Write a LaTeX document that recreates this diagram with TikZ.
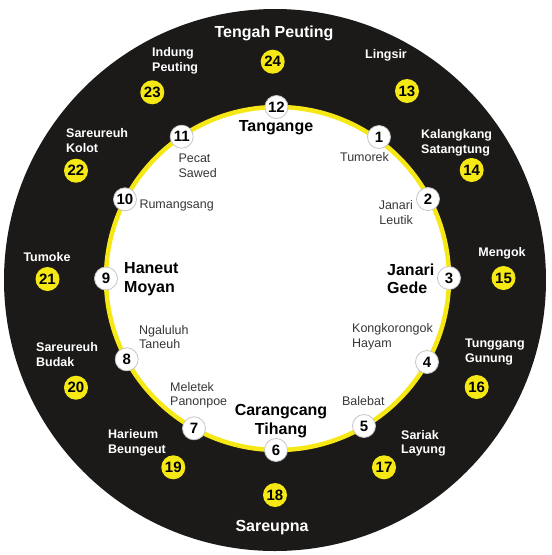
\documentclass[tikz,border=0pt]{standalone}
\usepackage{fontspec}
\setmainfont{Liberation Sans}
\usetikzlibrary{positioning}
\definecolor{jamblack}{RGB}{28,26,25}
\definecolor{jamyellow}{RGB}{245,232,20}
\definecolor{jamgrey}{RGB}{55,55,55}
\tikzset{
  hour/.style={circle,fill=white,draw=gray!45,line width=0.8pt,minimum size=23pt,
    inner sep=0pt,font=\fontsize{15}{15}\selectfont\bfseries},
  jam/.style={circle,fill=jamyellow,minimum size=24pt,inner sep=0pt,
    font=\fontsize{15}{15}\selectfont\bfseries},
  outer/.style={text=white,inner sep=0pt,align=left,
    font=\fontsize{12.5}{14.8}\selectfont\bfseries},
  inner/.style={text=jamgrey,inner sep=0pt,align=left,
    font=\fontsize{12.5}{14.5}\selectfont},
  big/.style={inner sep=0pt,align=center,
    font=\fontsize{16}{18.5}\selectfont\bfseries}
}
\begin{document}
\begin{tikzpicture}[x=1pt,y=-1pt]
\useasboundingbox (0,0) rectangle (552,555);
%\draw[help lines] (0,0) grid[step=50] (552,555);
\fill[jamblack] (275,280) circle (271);
\fill[white] (277.5,278.5) circle (171.5);
\draw[jamyellow,line width=4.5pt] (277.5,278.5) circle (171.5);
%
\foreach \p/\n in {(379,137)/1,(428,199)/2,(449,278)/3,(427,362)/4,
  (364,426)/5,(276,450)/6,(194,428.3)/7,(126.7,359.3)/8,(106,278.5)/9,
  (125,199.3)/10,(181.7,136.7)/11,(276.5,107)/12}
\node[hour] (h\n) at \p {\n};
\foreach \p/\n in {(407,91)/13,(471.7,170)/14,(503.5,278)/15,(476.7,387)/16,
  (384,467.3)/17,(275,495)/18,(173.3,467.3)/19,(76,387.7)/20,(47.5,279)/21,
  (76,170.7)/22,(152.3,92.3)/23,(272.7,61.7)/24}
\node[jam] (j\n) at \p {\n};
%
\node[big,text=white] (tengah) at (274,33) {Tengah Peuting};
\node[big,text=white] (sareupna) at (272,528) {Sareupna};
\node[big] (tangange) at (276,128) {Tangange};
\node[big,align=left,anchor=west] (janari) at (387,279) {Janari\\Gede};
\node[big] (carangcang) at (281,421) {Carangcang\\Tihang};
\node[big,align=left,anchor=west] (haneut) at (124,279) {Haneut\\Moyan};
%
\node[outer,anchor=west] (indung) at (152,60.8) {Indung\\Peuting};
\node[outer] (lingsir) at (386,55) {Lingsir};
\node[outer,anchor=west] (kalangkang) at (421,142.5) {Kalangkang\\Satangtung};
\node[outer] (mengok) at (502,253) {Mengok};
\node[outer,anchor=west] (tunggang) at (465,352) {Tunggang\\Gunung};
\node[outer,anchor=west] (sariak) at (401,443.3) {Sariak\\Layung};
\node[outer,anchor=west] (harieum) at (108,443) {Harieum\\Beungeut};
\node[outer,anchor=west] (budak) at (36,354.5) {Sareureuh\\Budak};
\node[outer] (tumoke) at (47,256.7) {Tumoke};
\node[outer,anchor=west] (kolot) at (66,140.5) {Sareureuh\\Kolot};
%
\node[inner] (tumorek) at (364.5,157.3) {Tumorek};
\node[inner,align=right,anchor=east] (leutik) at (413,212.5) {Janari\\Leutik};
\node[inner,anchor=west] (hayam) at (352,337) {Kongkorongok\\Hayam};
\node[inner] (balebat) at (363.3,400.7) {Balebat};
\node[inner,anchor=west] (meletek) at (170,395.5) {Meletek\\Panonpoe};
\node[inner,anchor=west] (ngaluluh) at (139,337) {Ngaluluh\\Taneuh};
\node[inner,anchor=west] (rumangsang) at (139.3,205) {Rumangsang};
\node[inner,anchor=west] (pecat) at (178.3,165.8) {Pecat\\Sawed};
\end{tikzpicture}
\end{document}
